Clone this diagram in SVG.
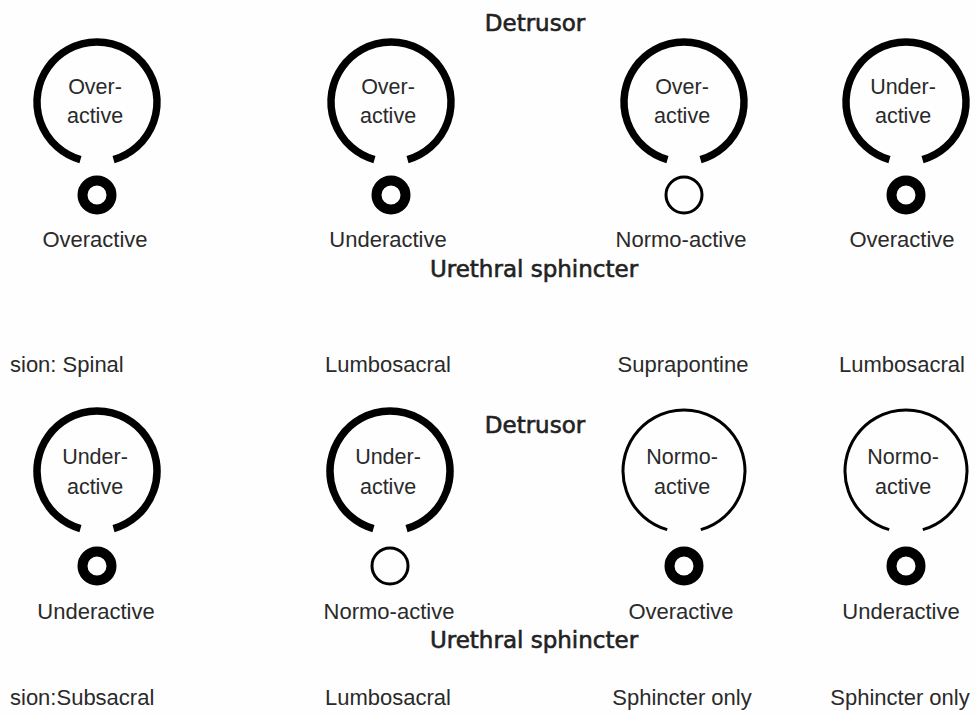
<svg xmlns="http://www.w3.org/2000/svg" xmlns:xlink="http://www.w3.org/1999/xlink" width="975" height="716" viewBox="0 0 975 716">
<defs>
<style>
.t{font-family:"Liberation Sans",Arial,sans-serif;font-size:22px;fill:#2a2a2a;text-anchor:middle}
.in{font-family:"Liberation Sans",Arial,sans-serif;font-size:21.5px;fill:#2a2a2a;text-anchor:middle}
.h{font-family:"DejaVu Sans",Verdana,sans-serif;font-size:23px;fill:#222;stroke:#222;stroke-width:0.6;text-anchor:middle}
.les{font-family:"Liberation Sans",Arial,sans-serif;font-size:22px;fill:#2a2a2a}
.thick{fill:none;stroke:#000;stroke-width:7.5}
.thin{fill:none;stroke:#000;stroke-width:3}
.rthick{fill:none;stroke:#000;stroke-width:10}
.rthin{fill:none;stroke:#000;stroke-width:3}
</style>
<path id="arcThick" class="thick" d="M-16.54,57.68 A60,60 0 1 1 16.54,57.68"/>
<path id="arcThin" class="thin" d="M-16.81,58.64 A61,61 0 1 1 16.81,58.64"/>
<circle id="ringThick" class="rthick" r="14.5"/>
<circle id="ringThin" class="rthin" r="18"/>
</defs>
<rect width="975" height="716" fill="#fefefe"/>

<text class="h" x="535" y="31">Detrusor</text>
<text class="h" x="534" y="277">Urethral sphincter</text>
<text class="h" x="535" y="433">Detrusor</text>
<text class="h" x="534" y="648">Urethral sphincter</text>

<!-- Row 1 -->
<g id="r1c1" transform="translate(97,102)">
<use xlink:href="#arcThick"/>
<text class="in" x="-2" y="-8">Over-</text>
<text class="in" x="-2" y="21">active</text>
<use xlink:href="#ringThick" y="93"/>
<text class="t" x="-2" y="145">Overactive</text>
</g>
<g id="r1c2" transform="translate(391,102)">
<use xlink:href="#arcThick"/>
<text class="in" x="-3" y="-8">Over-</text>
<text class="in" x="-3" y="21">active</text>
<use xlink:href="#ringThick" y="93"/>
<text class="t" x="-3" y="145">Underactive</text>
</g>
<g id="r1c3" transform="translate(684,102)">
<use xlink:href="#arcThick"/>
<text class="in" x="-2" y="-8">Over-</text>
<text class="in" x="-2" y="21">active</text>
<use xlink:href="#ringThin" y="93"/>
<text class="t" x="-3" y="145">Normo-active</text>
</g>
<g id="r1c4" transform="translate(906,102)">
<use xlink:href="#arcThick"/>
<text class="in" x="-3" y="-8">Under-</text>
<text class="in" x="-3" y="21">active</text>
<use xlink:href="#ringThick" y="93"/>
<text class="t" x="-4" y="145">Overactive</text>
</g>

<g id="lesion1">
<text class="les" x="10" y="372">sion: Spinal</text>
<text class="t" x="388" y="372">Lumbosacral</text>
<text class="t" x="683" y="372">Suprapontine</text>
<text class="t" x="902" y="372">Lumbosacral</text>
</g>

<!-- Row 2 -->
<g id="r2c1" transform="translate(97,471)">
<use xlink:href="#arcThick"/>
<text class="in" x="-2" y="-7">Under-</text>
<text class="in" x="-2" y="23">active</text>
<use xlink:href="#ringThick" y="95"/>
<text class="t" x="-1" y="148">Underactive</text>
</g>
<g id="r2c2" transform="translate(390,471)">
<use xlink:href="#arcThick"/>
<text class="in" x="-2" y="-7">Under-</text>
<text class="in" x="-2" y="23">active</text>
<use xlink:href="#ringThin" y="95"/>
<text class="t" x="-1" y="148">Normo-active</text>
</g>
<g id="r2c3" transform="translate(684,471)">
<use xlink:href="#arcThin"/>
<text class="in" x="-2" y="-7">Normo-</text>
<text class="in" x="-2" y="23">active</text>
<use xlink:href="#ringThick" y="95"/>
<text class="t" x="-3" y="148">Overactive</text>
</g>
<g id="r2c4" transform="translate(906,471)">
<use xlink:href="#arcThin"/>
<text class="in" x="-3" y="-7">Normo-</text>
<text class="in" x="-3" y="23">active</text>
<use xlink:href="#ringThick" y="95"/>
<text class="t" x="-5" y="148">Underactive</text>
</g>

<g id="lesion2">
<text class="les" x="10" y="705">sion:Subsacral</text>
<text class="t" x="388" y="705">Lumbosacral</text>
<text class="t" x="682" y="705">Sphincter only</text>
<text class="t" x="900" y="705">Sphincter only</text>
</g>

<g id="connectors"/>
</svg>
